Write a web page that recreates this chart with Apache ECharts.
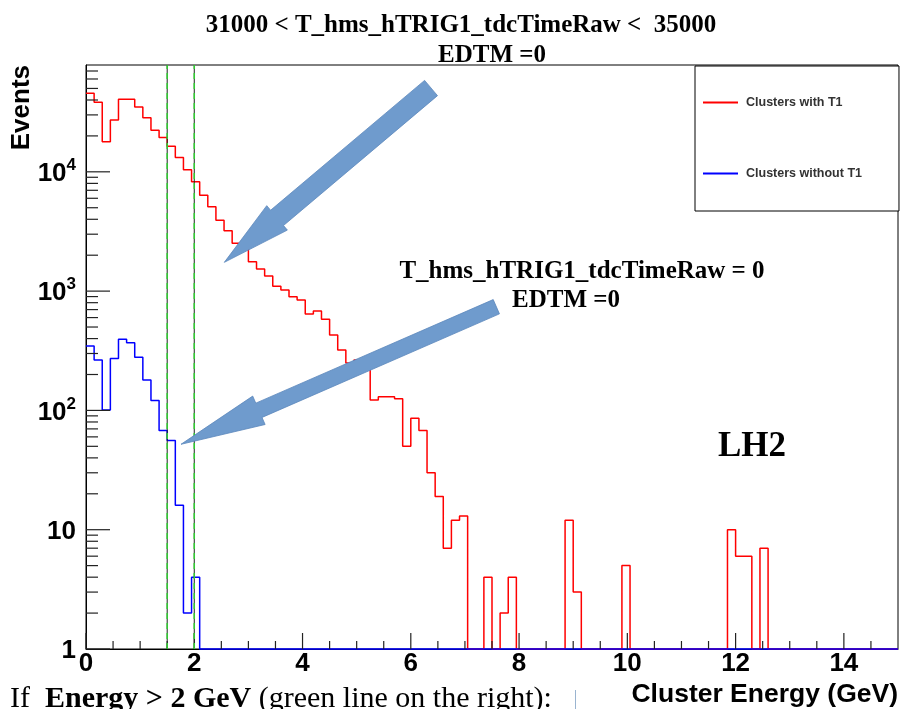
<!DOCTYPE html>
<html><head><meta charset="utf-8">
<script src="https://cdn.jsdelivr.net/npm/echarts@6/dist/echarts.min.js"></script>
<style>html,body{margin:0;padding:0;background:#fff}#c{width:902px;height:709px}</style>
</head><body><div id="c"></div>
<script>
// ---- histogram binning ----
const binWidth = 0.15;
const binStart = 0;
// counts per 0.15 GeV bin (100 bins, 0..15 GeV)
const withT1 = [
  45500, 38300, 17900, 27200, 40500, 40500, 34900, 28400, 22300, 19400,
  16400, 13200, 10400, 8260, 6350, 5100, 3920, 3210, 2520, 2500,
  1760, 1530, 1340, 1100, 1020, 898, 842, 643, 681, 581,
  429, 321, 250, 264, 264, 122, 130, 130, 125, 50,
  86, 68, 30, 19, 7, 12, 13, 0, 0, 4,
  0, 2, 4, 0, 0, 0, 0, 0, 0, 12,
  3, 0, 0, 0, 0, 0, 5, 0, 0, 0,
  0, 0, 0, 0, 0, 0, 0, 0, 0, 10,
  6, 6, 0, 7, 0, 0, 0, 0, 0, 0,
  0, 0, 0, 0, 0, 0, 0, 0, 0, 0
];
const withoutT1 = [
  347, 264, 101, 273, 394, 370, 279, 180, 121, 68,
  56, 16, 2, 4, 0, 0, 0, 0, 0, 0,
  0, 0, 0, 0, 0, 0, 0, 0, 0, 0,
  0, 0, 0, 0, 0, 0, 0, 0, 0, 0,
  0, 0, 0, 0, 0, 0, 0, 0, 0, 0,
  0, 0, 0, 0, 0, 0, 0, 0, 0, 0,
  0, 0, 0, 0, 0, 0, 0, 0, 0, 0,
  0, 0, 0, 0, 0, 0, 0, 0, 0, 0,
  0, 0, 0, 0, 0, 0, 0, 0, 0, 0,
  0, 0, 0, 0, 0, 0, 0, 0, 0, 0
];
const seriesNames = ['Clusters with T1', 'Clusters without T1'];
// ---- axes ----
const xMin = 0, xMax = 15;
const yMin = 1, yMax = 78600;
const xLabelTicks = [0, 2, 4, 6, 8, 10, 12, 14];
const xMinorTicks = [0.5, 1, 1.5, 2.5, 3, 3.5, 4.5, 5, 5.5, 6.5, 7, 7.5, 8.5, 9, 9.5,
  10.5, 11, 11.5, 12.5, 13, 13.5, 14.5];
const yDecadeTicks = [1, 10, 100, 1000, 10000];
const yMinorTicks = [2, 3, 4, 5, 6, 7, 8, 9, 20, 30, 40, 50, 60, 70, 80, 90,
  200, 300, 400, 500, 600, 700, 800, 900, 2000, 3000, 4000, 5000, 6000, 7000, 8000, 9000,
  20000, 30000, 40000, 50000, 60000, 70000];
// energy cuts (GeV)
const cutEnergies = [1.5, 2.0];

const chart = echarts.init(document.getElementById('c'), null, {renderer: 'canvas'});

function histPoints(counts) {
  const pts = counts.map((c, i) => [Math.round((binStart + i * binWidth) * 1000) / 1000, c > 0 ? c : yMin]);
  const last = counts[counts.length - 1];
  pts.push([Math.round((binStart + counts.length * binWidth) * 1000) / 1000, last > 0 ? last : yMin]);
  return pts;
}
function tickSeries(vals, axis, len) {
  return {
    type: 'custom', silent: true, z: 6, clip: false,
    data: vals.map(v => axis === 'x' ? [v, yMin] : [xMin, v]),
    encode: {x: 0, y: 1},
    renderItem: (p, api) => {
      const pt = api.coord([api.value(0), api.value(1)]);
      const shape = axis === 'x'
        ? {x1: pt[0], y1: pt[1], x2: pt[0], y2: pt[1] - len}
        : {x1: pt[0], y1: pt[1], x2: pt[0] + len, y2: pt[1]};
      return {type: 'line', shape, style: {stroke: '#222', lineWidth: 1.2}};
    }
  };
}
function cutSeries(e, dashed) {
  return {
    type: 'line', silent: true, symbol: 'none', clip: false, z: dashed ? 8 : 7,
    data: [[e, yMin], [e, yMax]],
    lineStyle: dashed ? {color: '#2fcc2f', width: 1.5, type: [6, 4]} : {color: '#222', width: 1}
  };
}

const sansB = 'Liberation Sans';
const serif = 'Liberation Serif';

const option = {
  animation: false,
  backgroundColor: '#fff',
  title: [
    {text: '31000 < T_hms_hTRIG1_tdcTimeRaw <  35000', left: 456, top: 8, textAlign: 'center',
      textStyle: {fontFamily: serif, fontWeight: 'bold', fontSize: 25, color: '#000'}},
    {text: 'EDTM =0', left: 487, top: 38, textAlign: 'center',
      textStyle: {fontFamily: serif, fontWeight: 'bold', fontSize: 25, color: '#000'}}
  ],
  legend: {
    data: seriesNames, orient: 'vertical', left: 695, top: 66,
    padding: [30, 37, 31, 8], itemGap: 58, itemWidth: 35, itemHeight: 2, icon: 'rect',
    backgroundColor: '#fff', borderColor: '#000', borderWidth: 1, borderRadius: 0,
    textStyle: {fontFamily: sansB, fontWeight: 'bold', fontSize: 12.5, color: '#333', padding: [0, 0, 0, 3]},
    z: 20
  },
  grid: {left: 86, right: 4, top: 65, bottom: 60, show: true, borderColor: '#000', borderWidth: 1,
    backgroundColor: '#fff', containLabel: false},
  xAxis: {
    type: 'value', min: xMin, max: xMax, interval: 2,
    axisLine: {show: true, lineStyle: {color: '#000', width: 1}},
    axisTick: {show: false}, splitLine: {show: false},
    axisLabel: {fontFamily: sansB, fontWeight: 'bold', fontSize: 26, color: '#000', margin: 2,
      showMaxLabel: false, formatter: v => xLabelTicks.includes(v) ? String(v) : ''},
    name: 'Cluster Energy (GeV)', nameLocation: 'end', nameGap: 0,
    nameTextStyle: {fontFamily: sansB, fontWeight: 'bold', fontSize: 26.5, color: '#000',
      align: 'right', verticalAlign: 'top', padding: [32, 0, 0, 0]}
  },
  yAxis: {
    type: 'log', logBase: 10, min: yMin, max: yMax,
    axisLine: {show: true, lineStyle: {color: '#000', width: 1}},
    axisTick: {show: false}, splitLine: {show: false}, minorTick: {show: false},
    axisLabel: {
      margin: 10, color: '#000',
      formatter: v => {
        const match = yDecadeTicks.find(t => Math.abs(t - v) / t < 1e-6);
        if (match === undefined) return '';
        const e = Math.round(Math.log10(match));
        if (e === 0) return '{b|1}';
        if (e === 1) return '{b|10}';
        return '{b|10}{s|' + e + '}';
      },
      rich: {
        b: {fontFamily: sansB, fontWeight: 'bold', fontSize: 26, color: '#000', lineHeight: 30, verticalAlign: 'bottom'},
        s: {fontFamily: sansB, fontWeight: 'bold', fontSize: 17, color: '#000', lineHeight: 30, verticalAlign: 'top'}
      }
    }
  },
  series: [
    {name: seriesNames[0], type: 'line', step: 'end', symbol: 'none', clip: false, z: 3,
      color: '#ff0000', itemStyle: {color: '#ff0000'},
      lineStyle: {color: '#ff0000', width: 1.5}, data: histPoints(withT1)},
    {name: seriesNames[1], type: 'line', step: 'end', symbol: 'none', clip: false, z: 4,
      color: '#0000ff', itemStyle: {color: '#0000ff'},
      lineStyle: {color: '#0000ff', width: 1.5}, data: histPoints(withoutT1)},
    ...cutEnergies.map(e => cutSeries(e, false)),
    ...cutEnergies.map(e => cutSeries(e, true)),
    tickSeries(xLabelTicks, 'x', 16),
    tickSeries(xMinorTicks, 'x', 8),
    tickSeries(yDecadeTicks, 'y', 24),
    tickSeries(yMinorTicks, 'y', 12)
  ]
};
chart.setOption(option);

// ---- annotation arrows, anchored in data coordinates ----
const arrowDefs = [
  {tip: [2.555, 1742], tail: [6.374, 50400], shaftHalf: 10, headLen: 69, headHalf: 16},
  {tip: [1.755, 52], tail: [7.58, 740], shaftHalf: 7.8, headLen: 85, headHalf: 15.5}
];
function arrowPolygon(d) {
  const t = chart.convertToPixel({gridIndex: 0}, d.tip);
  const b = chart.convertToPixel({gridIndex: 0}, d.tail);
  const dx = b[0] - t[0], dy = b[1] - t[1];
  const L = Math.hypot(dx, dy);
  const u = [dx / L, dy / L], n = [-u[1], u[0]];
  const P = (base, a, w) => [base[0] + u[0] * a + n[0] * w, base[1] + u[1] * a + n[1] * w];
  return [t, P(t, d.headLen, d.headHalf), P(t, d.headLen, d.shaftHalf), P(b, 0, d.shaftHalf),
    P(b, 0, -d.shaftHalf), P(t, d.headLen, -d.shaftHalf), P(t, d.headLen, -d.headHalf)];
}
const graphics = arrowDefs.map(d => ({
  type: 'polygon', z: 50, silent: true,
  shape: {points: arrowPolygon(d)},
  style: {fill: '#6f9bcd', stroke: '#5a86bb', lineWidth: 0.8}
}));
graphics.push(
  {type: 'text', z: 60, x: 582, y: 272, style: {text: 'T_hms_hTRIG1_tdcTimeRaw = 0', align: 'center', verticalAlign: 'middle',
    font: 'bold 25px "Liberation Serif"', fill: '#000'}},
  {type: 'text', z: 60, x: 566, y: 301, style: {text: 'EDTM =0', align: 'center', verticalAlign: 'middle',
    font: 'bold 25px "Liberation Serif"', fill: '#000'}},
  {type: 'text', z: 60, x: 752, y: 447, style: {text: 'LH2', align: 'center', verticalAlign: 'middle',
    font: 'bold 35px "Liberation Serif"', fill: '#000'}},
  {type: 'text', z: 60, x: 22, y: 65, rotation: Math.PI / 2, style: {text: 'Events', align: 'right', verticalAlign: 'middle',
    font: 'bold 26px "Liberation Sans"', fill: '#000'}},
  {type: 'text', z: 60, x: 10, y: 684, style: {
    text: '{n|If  }{bb|Energy > 2 GeV}{n| (green line on the right):}', verticalAlign: 'top',
    rich: {n: {font: '30px "Liberation Serif"', fill: '#000'}, bb: {font: 'bold 30px "Liberation Serif"', fill: '#000'}}}},
  {type: 'line', z: 60, shape: {x1: 575.5, y1: 690, x2: 575.5, y2: 709}, style: {stroke: '#9ab4d0', lineWidth: 1}}
);
chart.setOption({graphic: graphics});
</script></body></html>
